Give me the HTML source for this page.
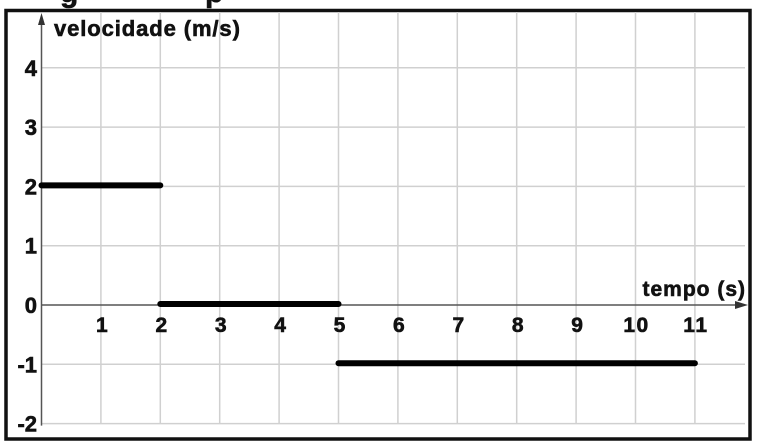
<!DOCTYPE html>
<html><head><meta charset="utf-8"><style>
html,body{margin:0;padding:0;background:#fff;width:758px;height:446px;overflow:hidden}
svg{display:block}
text{font-family:"Liberation Sans",Arial,sans-serif;font-weight:bold;fill:#111;stroke:#111;stroke-width:0.6}
</style></head><body>
<svg id="chart" width="758" height="446" viewBox="0 0 758 446">
  <text x="60" y="2" font-size="30">g</text>
  <text x="205" y="2" font-size="30">p</text>
  <rect x="6" y="10.5" width="744" height="428.5" fill="none" stroke="#111" stroke-width="3.5"/>
  <g id="grid"></g>
  <g id="axes"></g>
  <g id="series"></g>
  <text x="54" y="36" font-size="22" letter-spacing="0.9">velocidade (m/s)</text>
  <text x="746" y="296" font-size="21" letter-spacing="1" text-anchor="end">tempo (s)</text>
</svg>
<script>
const xTicks = [1,2,3,4,5,6,7,8,9,10,11];
const yTicks = [-2,-1,0,1,2,3,4];
const segStart = [0,2,5];
const segEnd = [2,5,11];
const segValue = [2,0,-1];

const NS='http://www.w3.org/2000/svg';
const X0=41.5, XS=59.4, Y0=305, YS=59.3;
const sx=v=>X0+v*XS, sy=v=>Y0-v*YS;
function mk(tag,attrs,parent){const e=document.createElementNS(NS,tag);for(const k in attrs)e.setAttribute(k,attrs[k]);parent.appendChild(e);return e;}
const grid=document.getElementById('grid'), axes=document.getElementById('axes'), series=document.getElementById('series');

xTicks.forEach(t=>{
  const l=mk('line',{x1:sx(t),x2:sx(t),y1:12,y2:sy(-2),stroke:'#d0d0d0','stroke-width':1.5},grid);
  
  
  const tx=mk('text',{x:sx(t)+1,y:332,'font-size':21,'letter-spacing':String(t).length>1?1.5:0,'text-anchor':'middle'},axes);
  tx.textContent=t;
  
  
});
yTicks.forEach(t=>{
  if(t!==0){
    const l=mk('line',{x1:X0,x2:745,y1:sy(t),y2:sy(t),stroke:'#d0d0d0','stroke-width':1.5},grid);
    
    
  }
  const tx=mk('text',{x:37,y:sy(t)+8,'font-size':22,'text-anchor':'end'},axes);
  tx.textContent=t;
  
  
});
const xa=mk('line',{x1:X0,x2:740,y1:Y0,y2:Y0,stroke:'#555','stroke-width':1.5},axes);


const xar=mk('polygon',{points:'748,305 735,301 735,309',fill:'#333'},axes);


const ya=mk('line',{x1:X0,x2:X0,y1:22,y2:sy(-2)+2,stroke:'#555','stroke-width':1.5},axes);


const yar=mk('polygon',{points:'41.5,13 38,25 45,25',fill:'#333'},axes);



segValue.forEach((v,i)=>{
  const l=mk('line',{x1:sx(segStart[i]),x2:sx(segEnd[i]),y1:sy(v)-1,y2:sy(v)-1,stroke:'#000','stroke-width':6,'stroke-linecap':'round'},series);
  
  
});
</script>
</body></html>
